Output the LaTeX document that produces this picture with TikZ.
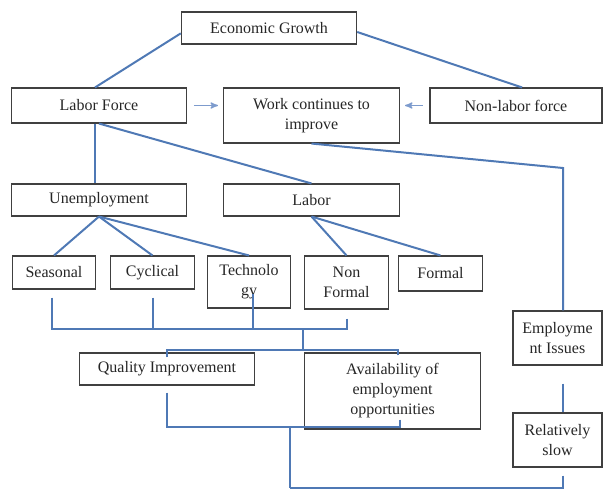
\documentclass[tikz,border=0pt]{standalone}
\usepackage{fontspec}
\setmainfont{Liberation Serif}
\usetikzlibrary{arrows}
\definecolor{linkblue}{RGB}{79,121,181}
\definecolor{arrowblue}{RGB}{125,155,205}

\begin{document}
\begin{tikzpicture}
        [x=0.75pt,y=-0.75pt,every node/.style={draw=black!75,line width=0.8pt,align=center,inner sep=0pt,font=\fontsize{12}{15}\selectfont,text=black!85},
         bigbox/.style={minimum width=131.5pt,minimum height=#1},
         smallbox/.style={minimum width=62.5pt,minimum height=#1},
         sidebox/.style={minimum width=66.75pt,minimum height=40.5pt},
         link/.style={draw=linkblue,line width=1.5pt},
         push/.style={draw=arrowblue,line width=1pt,->,>=stealth',shorten <=5pt,shorten >=4pt}]
        \useasboundingbox (0,0) rectangle (603,490);

        \node[bigbox=24pt] (eg) at (269,28) {Economic Growth};
        \node[bigbox=26.25pt] (lf) at (99,105.5) {Labor Force};
        \node[bigbox=41.25pt] (wc) at (311.5,115.5) {Work continues to\\improve};
        \node[bigbox=26.25pt,minimum width=129pt] (nlf) at (516,105.5) {Non-labor force};
        \node[bigbox=24pt] (un) at (99,200) {Unemployment};
        \node[bigbox=24pt] (lab) at (311.5,200) {Labor};
        \node[smallbox=24.75pt] (sea) at (54,272.5) {Seasonal};
        \node[smallbox=24.75pt] (cyc) at (152.5,272.5) {Cyclical};
        \node[smallbox=39pt] (tec) at (249,282) {Technolo\\gy};
        \node[smallbox=39.75pt] (nf) at (346.5,282.5) {Non\\Formal};
        \node[smallbox=26.25pt] (fm) at (440.5,273.5) {Formal};
        \node[bigbox=24pt] (qi) at (167,369) {Quality Improvement};
        \node[bigbox=57pt] (ae) at (392.5,391) {Availability of\\employment\\opportunities};
        \node[sidebox] (ei) at (557.5,338) {Employme\\nt Issues};
        \node[sidebox] (rs) at (557.5,440) {Relatively\\slow};

        \coordinate (bend) at (563,168);
        \coordinate (junA) at (303,329);
        \coordinate (junB) at (303,350);
        \coordinate (junC) at (290,427);
        \coordinate (junE) at (290,488);

        \draw[link] ([yshift=-4pt]eg.west) -- ([xshift=-3pt]lf.north);
        \draw[link] ([yshift=-3pt]eg.east) -- ([xshift=4.5pt]nlf.north);
        \draw[push] (lf.east) -- (lf.east -| wc.west);
        \draw[push] (nlf.west) -- (nlf.west -| wc.east);
        \draw[link] ([xshift=-3pt]lf.south) -- ([xshift=-3pt]un.north);
        \draw[link] (lf.south) -- (lab.north);
        \draw[link] (wc.south) -- (bend) -- (bend |- ei.north);

        \foreach \from/\to in {un/sea,un/cyc,un/tec,lab/nf,lab/fm}
        \draw[link] (\from.south) -- (\to.north);

        \draw[link] (sea.south) ++(-2,8) |- (junA);
        \draw[link] (cyc.south) ++(0,8) |- (junA);
        \draw[link] (tec.south) ++(4,-15) |- (junA);
        \draw[link] (nf.south) ++(0,9) |- (junA);
        \draw[link] (junA) -- (junB);
        \draw[link] (qi.north) ++(0,5) |- (junB);
        \draw[link] ([xshift=4pt]ae.north) ++(0,3) |- (junB);

        \draw[link] (qi.south) ++(0,7) |- (junC);
        \draw[link] ([xshift=5.5pt]ae.south) ++(0,-10) |- (junC);
        \draw[link] (junC) -- (junE);
        \draw[link] (bend |- rs.south) ++(0,8) |- (junE);
        \draw[link] (bend |- ei.south) ++(0,18) -- (bend |- rs.north);
      \end{tikzpicture}
\end{document}
